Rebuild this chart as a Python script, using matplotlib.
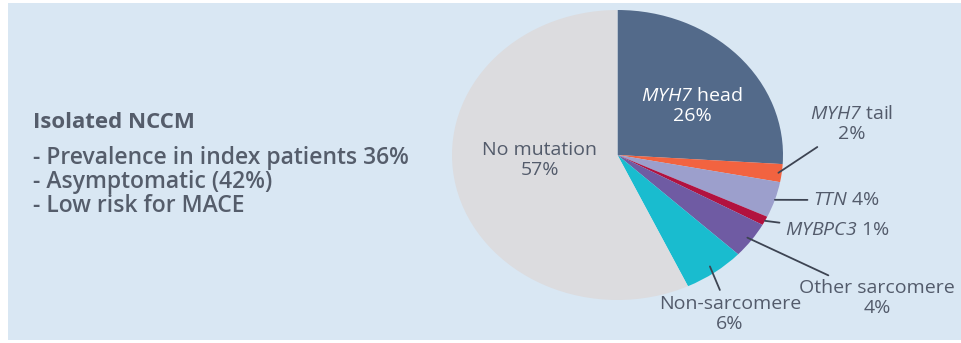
import matplotlib
matplotlib.use("Agg")
import matplotlib.pyplot as plt
from matplotlib.patches import Rectangle
import numpy as np

plt.rcParams['font.family'] = ['Open Sans', 'DejaVu Sans']
# math text only used for the italic gene names, so make it all italic
plt.rcParams['mathtext.fontset'] = 'custom'
plt.rcParams['mathtext.rm'] = 'Open Sans:italic'
plt.rcParams['mathtext.it'] = 'Open Sans:italic'
plt.rcParams['mathtext.bf'] = 'Open Sans:bold'

# data
labels = ['$MYH7$ head\n26%', '$MYH7$ tail\n2%', '$TTN$ 4%',
          '$MYBPC3$ 1%', 'Other sarcomere\n4%', 'Non-sarcomere\n6%',
          'No mutation\n57%']
values = [26, 2, 4, 1, 4, 6, 57]
colors = ['#536a8a', '#f26340', '#9c9fcc', '#b2123f', '#6f5ba3', '#19bccf', '#dcdcdf']
title = 'Isolated NCCM'
bullets = ['- Prevalence in index patients 36%', '- Asymptomatic (42%)', '- Low risk for MACE']

W, H = 961, 343
fig = plt.figure(figsize=(W / 100, H / 100), dpi=100)
fig.patch.set_facecolor('white')

# background panel, pixel coordinates (top-down)
bg = fig.add_axes([0, 0, 1, 1])
bg.set_xlim(0, W)
bg.set_ylim(H, 0)
bg.axis('off')
bg.add_patch(Rectangle((8, 3), W - 8, 337, color='#d9e7f3', lw=0))

txt_col = '#555d6b'
bg.text(33, 122, title, fontsize=16, fontweight='bold', color=txt_col, va='center')
for i, b in enumerate(bullets):
    bg.text(33, 158 + i * 24, b, fontsize=16.5, fontweight='semibold', color=txt_col, va='center')

# elliptical pie
px0, py0, px1, py1 = 452, 10, 783, 300
pie_ax = fig.add_axes([px0 / W, (H - py1) / H, (px1 - px0) / W, (py1 - py0) / H])
wedges, _ = pie_ax.pie(values, colors=colors, startangle=90, counterclock=False,
                       radius=1, wedgeprops=dict(linewidth=0))
pie_ax.set_xlim(-1, 1)
pie_ax.set_ylim(-1, 1)
pie_ax.set_aspect('auto')
pie_ax.axis('off')

lab_col = '#535b6b'
fs = 14
# inside labels
pie_ax.text(0.45, 0.34, labels[0], ha='center', va='center', fontsize=fs,
            color='white', linespacing=1.15)
pie_ax.text(-0.47, -0.035, labels[6], ha='center', va='center', fontsize=fs,
            color=lab_col, linespacing=1.15)

# outside labels with leader lines
outside = {1: (852, 124, 'center', 0.98),
           2: (813, 200, 'left', 1.0),
           3: (785, 230, 'left', 1.0),
           4: (877, 298, 'center', 0.97),
           5: (730, 314, 'center', 0.95)}
for idx, (tx, ty, ha, r) in outside.items():
    w = wedges[idx]
    ang = np.deg2rad((w.theta1 + w.theta2) / 2)
    pie_ax.annotate(labels[idx], xy=(r * np.cos(ang), r * np.sin(ang)), xycoords='data',
                    xytext=(tx, ty), textcoords=bg.transData, ha=ha, va='center',
                    fontsize=fs, color=lab_col, linespacing=1.1,
                    arrowprops=dict(arrowstyle='-', color='#3d4452', lw=1.3,
                                    shrinkA=2, shrinkB=0))

fig.savefig('out.png', dpi=100)
